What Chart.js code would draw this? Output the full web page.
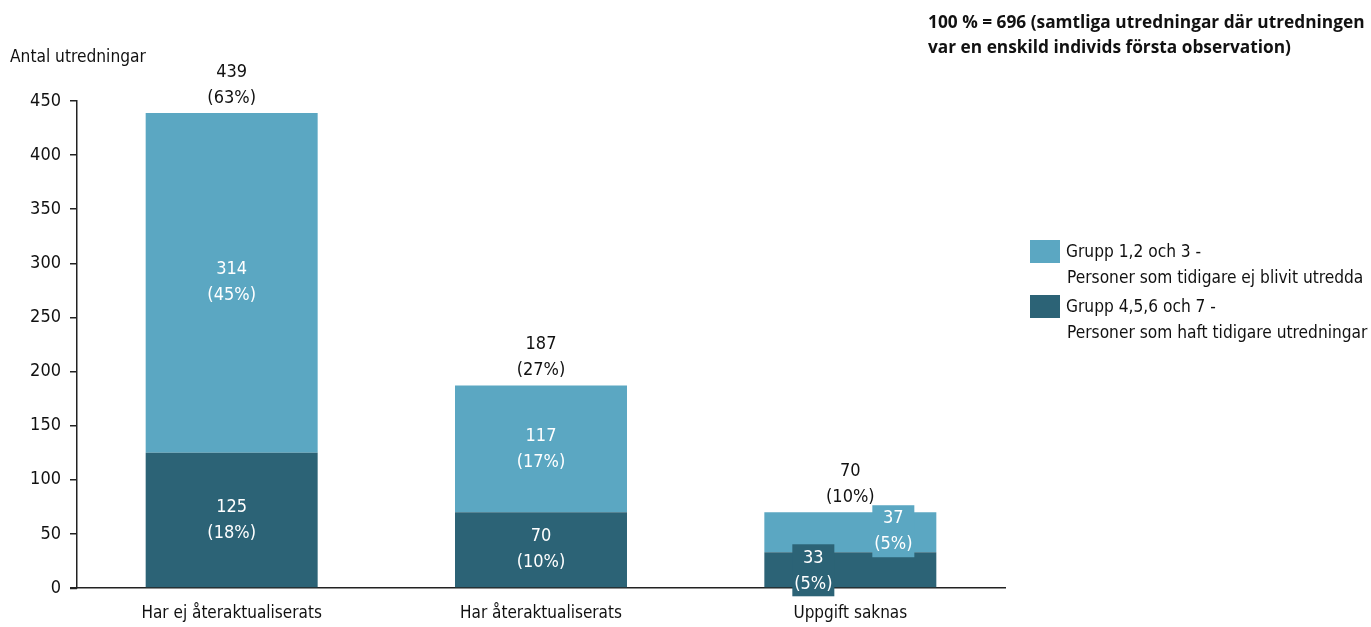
<!DOCTYPE html>
<html><head><meta charset="utf-8">
<script src="https://cdn.jsdelivr.net/npm/chart.js@4"></script>
<style>
html,body{margin:0;padding:0;background:#fff;}
#wrap{position:relative;width:1371px;height:627px;}
#note{position:absolute;left:928px;top:9px;font-family:'Open Sans',sans-serif;font-weight:700;font-size:17.3px;line-height:25px;color:#111;white-space:nowrap;}
#legend{position:absolute;left:1030px;top:238px;font-family:'DejaVu Sans Condensed',sans-serif;font-size:17.2px;color:#111;line-height:26px;}
.li{position:relative;padding-left:36px;margin-bottom:3px;}
.sw{position:absolute;left:0;top:2px;width:30px;height:23px;}
.l2{padding-left:1px;}
</style></head>
<body><div id="wrap"><canvas id="c" width="1371" height="627"></canvas>
<div id="note">100 % = 696 (samtliga utredningar där utredningen<br>var en enskild individs första observation)</div>
<div id="legend"></div></div>
<script>
const categories = ['Har ej återaktualiserats', 'Har återaktualiserats', 'Uppgift saknas'];
const seriesNames = ['Grupp 1,2 och 3 -', 'Grupp 4,5,6 och 7 -'];
const seriesSub = ['Personer som tidigare ej blivit utredda', 'Personer som haft tidigare utredningar'];
const groupNew = [314, 117, 37];
const groupPrev = [125, 70, 33];
const pctNew = ['45%', '17%', '5%'];
const pctPrev = ['18%', '10%', '5%'];
const totals = [439, 187, 70];
const pctTotal = ['63%', '27%', '10%'];
const yTicks = [0, 50, 100, 150, 200, 250, 300, 350, 400, 450];

const LIGHT = '#5ba7c2', DARK = '#2c6376';
const FONT = "'DejaVu Sans Condensed',sans-serif";

// legend (HTML)
const lg = document.getElementById('legend');
[[LIGHT,0],[DARK,1]].forEach(([c,i])=>{
  const d=document.createElement('div');d.className='li';
  d.innerHTML='<span class="sw" style="background:'+c+'"></span>'+seriesNames[i]+'<br><span class="l2">'+seriesSub[i]+'</span>';
  lg.appendChild(d);
});

const labelPlugin = {
  id:'labels',
  afterDatasetsDraw(chart){
    const ctx=chart.ctx;
    ctx.save();
    ctx.font='18px '+FONT;
    ctx.textAlign='center';ctx.textBaseline='middle';
    const mPrev=chart.getDatasetMeta(0), mNew=chart.getDatasetMeta(1);
    const lh=26;
    categories.forEach((c,i)=>{
      const bp=mPrev.data[i], bn=mNew.data[i];
      let xp=bp.x, yp=(bp.y+bp.base)/2, xn=bn.x, yn=(bn.y+bn.base)/2;
      if(i===2){
        xp=bp.x-37; yp=bp.y+19; xn=bn.x+43; yn=bn.y+19;
        ctx.fillStyle=DARK; ctx.fillRect(xp-21,yp-27,42,52);
        ctx.fillStyle=LIGHT; ctx.fillRect(xn-21,yn-26,42,52);
      }
      ctx.fillStyle='#fff';
      ctx.fillText(String(groupPrev[i]),xp,yp-lh/2);
      ctx.fillText('('+pctPrev[i]+')',xp,yp+lh/2);
      ctx.fillText(String(groupNew[i]),xn,yn-lh/2);
      ctx.fillText('('+pctNew[i]+')',xn,yn+lh/2);
      ctx.fillStyle='#111';
      ctx.fillText(String(totals[i]),bn.x,bn.y-41);
      ctx.fillText('('+pctTotal[i]+')',bn.x,bn.y-15);
    });
    ctx.font='17.2px '+FONT;ctx.textAlign='left';
    ctx.fillText('Antal utredningar',10,58);
    // short axis extension left of y axis
    const a=chart.chartArea;
    ctx.strokeStyle='#222';ctx.lineWidth=1.5;
    ctx.beginPath();ctx.moveTo(a.left-7,a.bottom+0.5);ctx.lineTo(a.left,a.bottom+0.5);ctx.stroke();
    ctx.restore();
  }
};

new Chart(document.getElementById('c'),{
  type:'bar',
  data:{labels:categories,datasets:[
    {label:seriesNames[1],data:groupPrev,backgroundColor:DARK,categoryPercentage:1,barPercentage:0.556},
    {label:seriesNames[0],data:groupNew,backgroundColor:LIGHT,categoryPercentage:1,barPercentage:0.556}
  ]},
  options:{
    responsive:false,animation:false,
    layout:{padding:{top:101,right:366,left:0,bottom:0}},
    plugins:{legend:{display:false},tooltip:{enabled:false}},
    scales:{
      x:{stacked:true,
        afterFit(s){s.height=39;},
        grid:{display:false,drawTicks:false},
        border:{display:true,color:'#222',width:1.5},
        ticks:{color:'#111',font:{family:FONT,size:17},padding:15}},
      y:{stacked:true,min:0,max:450,
        afterBuildTicks(s){s.ticks=yTicks.map(v=>({value:v}));},
        afterFit(s){s.width=77;},
        grid:{drawOnChartArea:false,color:'#222',tickLength:7,lineWidth:1.5},
        border:{display:true,color:'#222',width:1.5},
        ticks:{color:'#111',font:{family:FONT,size:18},padding:9}}
    }
  },
  plugins:[labelPlugin]
});
</script></body></html>
